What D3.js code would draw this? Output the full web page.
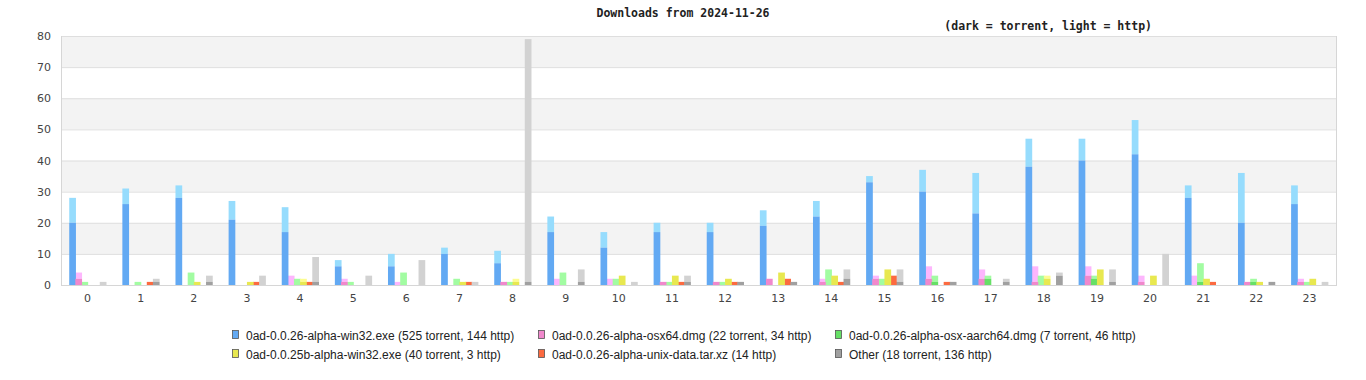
<!DOCTYPE html>
<html><head><meta charset="utf-8">
<script src="https://cdn.jsdelivr.net/npm/d3@7"></script>
<style>
html,body{margin:0;padding:0;background:#fff;}
svg{display:block;}
</style></head>
<body>
<svg id="chart" width="1366" height="380"></svg>
<script>
const title = "Downloads from 2024-11-26";
const subtitle = "(dark = torrent, light = http)";
const hours = ["0","1","2","3","4","5","6","7","8","9","10","11","12","13","14","15","16","17","18","19","20","21","22","23"];
const seriesNames = [
  "0ad-0.0.26-alpha-win32.exe (525 torrent, 144 http)",
  "0ad-0.0.26-alpha-osx64.dmg (22 torrent, 34 http)",
  "0ad-0.0.26-alpha-osx-aarch64.dmg (7 torrent, 46 http)",
  "0ad-0.0.25b-alpha-win32.exe (40 torrent, 3 http)",
  "0ad-0.0.26-alpha-unix-data.tar.xz (14 http)",
  "Other (18 torrent, 136 http)"
];
const win32Torrent = [20,26,28,21,17,6,6,10,7,17,12,17,17,19,22,33,30,23,38,40,42,28,20,26];
const win32Http    = [8,5,4,6,8,2,4,2,4,5,5,3,3,5,5,2,7,13,9,7,11,4,16,6];
const osx64Torrent = [2,0,0,0,0,1,0,0,1,0,0,1,1,2,1,2,2,2,1,3,1,0,1,1];
const osx64Http    = [2,0,0,0,3,1,1,0,0,2,2,0,0,0,1,1,4,3,5,3,2,3,0,1];
const aarchTorrent = [0,0,0,0,0,0,0,0,0,0,0,0,0,0,0,0,1,2,0,2,0,1,1,0];
const aarchHttp    = [1,1,4,0,2,1,4,2,1,4,2,1,1,0,5,2,2,1,3,1,0,6,1,1];
const w25Torrent   = [0,0,1,1,1,0,0,1,1,0,3,3,2,4,3,5,0,0,2,5,3,2,1,2];
const w25Http      = [0,0,0,0,1,0,0,0,1,0,0,0,0,0,0,0,0,0,1,0,0,0,0,0];
const unixTorrent  = [0,0,0,0,0,0,0,0,0,0,0,0,0,0,0,0,0,0,0,0,0,0,0,0];
const unixHttp     = [0,1,0,1,1,0,0,1,0,0,0,1,1,2,1,3,1,0,0,0,0,1,0,0];
const otherTorrent = [0,1,1,0,1,0,0,0,1,1,0,1,1,1,2,1,1,1,3,1,0,0,1,0];
const otherHttp    = [1,1,2,3,8,3,8,1,78,4,1,2,0,0,3,4,0,1,1,4,10,0,0,1];
const yTicks = [0,10,20,30,40,50,60,70,80];
const darkColors  = ["#62a9f3","#f088cc","#66e066","#e8e850","#fc6a40","#a0a0a0"];
const lightColors = ["#96dcfd","#fdb6fd","#a2fca2","#fcfc90","#fc6a40","#d2d2d2"];

const torrent = [win32Torrent, osx64Torrent, aarchTorrent, w25Torrent, unixTorrent, otherTorrent];
const http = [win32Http, osx64Http, aarchHttp, w25Http, unixHttp, otherHttp];

const svg = d3.select("#chart");
const plotL = 61, plotR = 1336, plotT = 36, plotB = 285;

const x = d3.scaleBand().domain(hours).range([plotL, plotR]).paddingInner(0.31).paddingOuter(0.155);
const xs = d3.scaleBand().domain(d3.range(6)).range([0, x.bandwidth()]);
const y = d3.scaleLinear().domain([0, 80]).range([plotB, plotT]);

// background bands
const bands = d3.range(0, 80, 10);
svg.append("g").selectAll("rect").data(bands).join("rect")
  .attr("x", plotL).attr("width", plotR - plotL)
  .attr("y", d => y(d + 10)).attr("height", d => y(d) - y(d + 10))
  .attr("fill", d => (d / 10) % 2 === 1 ? "#f3f3f3" : "#ffffff");

// gridlines
svg.append("g").selectAll("line").data(yTicks).join("line")
  .attr("x1", plotL).attr("x2", plotR)
  .attr("y1", d => y(d) + 0.5).attr("y2", d => y(d) + 0.5)
  .attr("stroke", "#dedede").attr("stroke-width", 1);
// borders
svg.append("line").attr("x1", plotL + 0.5).attr("x2", plotL + 0.5).attr("y1", plotT).attr("y2", plotB + 1)
  .attr("stroke", "#d6d6d6");
svg.append("line").attr("x1", plotR + 0.5).attr("x2", plotR + 0.5).attr("y1", plotT).attr("y2", plotB + 1)
  .attr("stroke", "#d6d6d6");

// bars
const data = [];
hours.forEach((h, i) => {
  for (let s = 0; s < 6; s++) {
    data.push({h, s, t: torrent[s][i], w: http[s][i]});
  }
});
const bw = xs.bandwidth() + 0.6;
const g = svg.append("g");
g.selectAll("rect.http").data(data.filter(d => d.w > 0)).join("rect")
  .attr("class", "http")
  .attr("x", d => x(d.h) + xs(d.s)).attr("width", bw)
  .attr("y", d => y(d.t + d.w)).attr("height", d => y(d.t) - y(d.t + d.w))
  .attr("fill", d => lightColors[d.s]);
g.selectAll("rect.tor").data(data.filter(d => d.t > 0)).join("rect")
  .attr("class", "tor")
  .attr("x", d => x(d.h) + xs(d.s)).attr("width", bw)
  .attr("y", d => y(d.t)).attr("height", d => y(0) - y(d.t))
  .attr("fill", d => darkColors[d.s]);

// bottom axis line
svg.append("line").attr("x1", plotL).attr("x2", plotR + 1).attr("y1", plotB + 0.5).attr("y2", plotB + 0.5)
  .attr("stroke", "#d6d6d6");

// y labels
svg.append("g").selectAll("text").data(yTicks).join("text")
  .attr("x", 51).attr("y", d => y(d) + 4)
  .attr("text-anchor", "end")
  .attr("font-family", "DejaVu Sans, sans-serif").attr("font-size", 11)
  .attr("fill", "#444").text(d => d);

// x labels
svg.append("g").selectAll("text").data(hours).join("text")
  .attr("x", d => x(d) + x.bandwidth() / 2).attr("y", 302)
  .attr("text-anchor", "middle")
  .attr("font-family", "DejaVu Sans, sans-serif").attr("font-size", 11)
  .attr("fill", "#444").text(d => d);

// titles
svg.append("text").attr("x", 683).attr("y", 17).attr("text-anchor", "middle")
  .attr("font-family", "DejaVu Sans Mono, monospace").attr("font-size", 11.5).attr("font-weight", "bold")
  .attr("fill", "#222").text(title);
svg.append("text").attr("x", 1152).attr("y", 30).attr("text-anchor", "end")
  .attr("font-family", "DejaVu Sans Mono, monospace").attr("font-size", 11.5).attr("font-weight", "bold")
  .attr("fill", "#222").text(subtitle);

// legend
const legX = [232, 538, 835];
const legY = [335, 354];
const leg = svg.append("g").selectAll("g").data(seriesNames).join("g")
  .attr("transform", (d, i) => `translate(${legX[i % 3]},${legY[Math.floor(i / 3)]})`);
leg.append("rect").attr("x", 0.5).attr("y", -4.5).attr("width", 6).attr("height", 8)
  .attr("fill", (d, i) => darkColors[i]).attr("stroke", "#555").attr("stroke-width", 0.8);
leg.append("text").attr("x", 14).attr("y", 4.5)
  .attr("font-family", "Liberation Sans, Arial, sans-serif").attr("font-size", 12)
  .attr("fill", "#222").text(d => d);
</script>
</body></html>
